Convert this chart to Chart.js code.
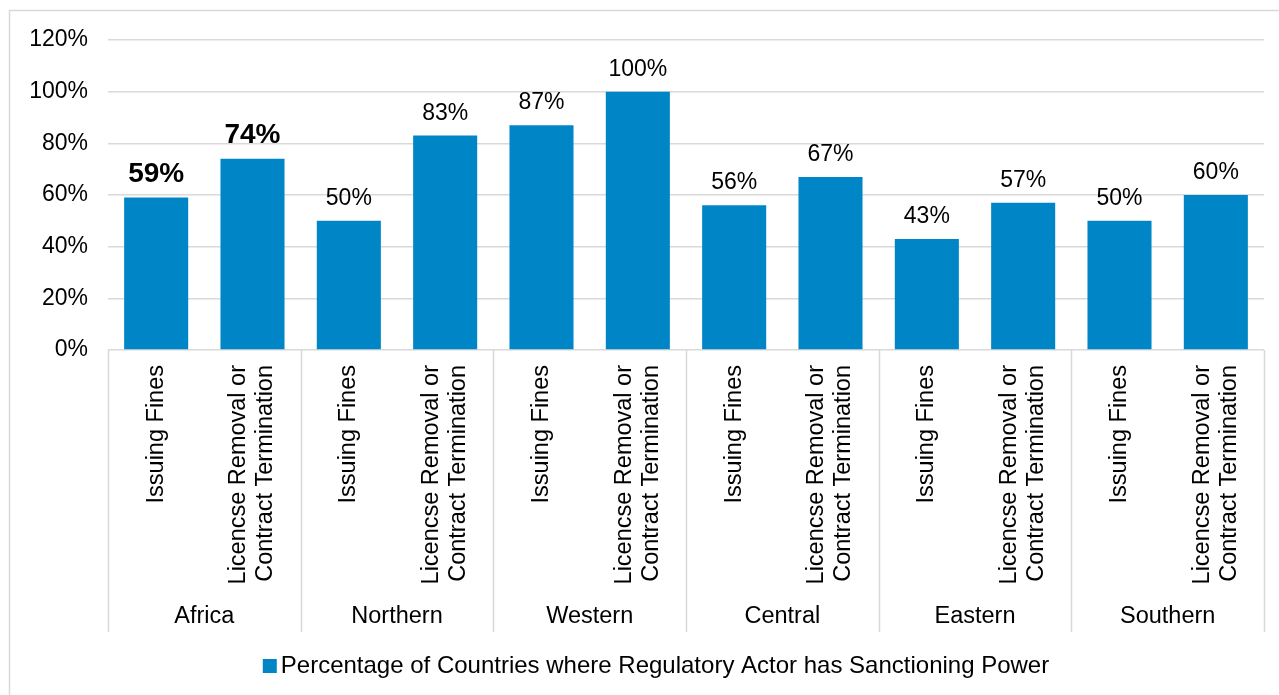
<!DOCTYPE html>
<html>
<head>
<meta charset="utf-8">
<title>Sanctioning power by region</title>
<script src="https://cdn.jsdelivr.net/npm/chart.js@4.4.1/dist/chart.umd.min.js"></script>
<style>
    html, body { margin: 0; padding: 0; background: #fff; }
    #wrap { position: relative; width: 1279px; height: 695px; }
</style>
</head>
<body>
<div id="wrap"><canvas id="sanctions" width="1279" height="695"></canvas></div>
<script>
    "use strict";

    // Regions and the two kinds of sanction shown for each
    var regions = ['Africa', 'Northern', 'Western', 'Central', 'Eastern', 'Southern'];
    var sanctionTypes = [['Issuing Fines'], ['Licencse Removal or', 'Contract Termination']];

    // Percentage of countries, one value per region
    var issuingFines = [59, 50, 87, 56, 43, 50];
    var licenceRemoval = [74, 83, 100, 67, 57, 60];

    var yTicks = [0, 20, 40, 60, 80, 100, 120];
    var seriesName = 'Percentage of Countries where Regulatory Actor has Sanctioning Power';

    var FONT = '"Liberation Sans", Arial, Helvetica, sans-serif';
    var BAR_BLUE = '#0086C7';
    var LINE_GREY = '#d9d9d9';

    // two bars per region: fines first, then licence removal
    var labels = [];
    var values = [];
    regions.forEach(function (r, i) {
        labels.push(sanctionTypes[0]);
        values.push(issuingFines[i]);
        labels.push(sanctionTypes[1]);
        values.push(licenceRemoval[i]);
    });

    // Outer frame, drawn before anything else
    var framePlugin = {
        id: 'frame',
        beforeDraw: function (chart) {
            var ctx = chart.ctx;
            ctx.save();
            ctx.strokeStyle = LINE_GREY;
            ctx.lineWidth = 1.5;
            ctx.strokeRect(9.5, 10.5, 1320, 720);
            ctx.restore();
        }
    };

    // Value labels above each bar, Africa totals in bold
    var valueLabels = {
        id: 'valueLabels',
        afterDatasetsDraw: function (chart) {
            var ctx = chart.ctx;
            var meta = chart.getDatasetMeta(0);
            ctx.save();
            ctx.fillStyle = '#000';
            ctx.textAlign = 'center';
            ctx.textBaseline = 'alphabetic';
            meta.data.forEach(function (bar, i) {
                var bold = Math.floor(i / 2) === 0;
                ctx.font = bold ? 'bold 28px ' + FONT : '23px ' + FONT;
                ctx.fillText(values[i] + '%', bar.x, bar.y - 16);
            });
            ctx.restore();
        }
    };

    // Rotated sanction labels, region names and the separators between regions
    var groupAxis = {
        id: 'groupAxis',
        afterDraw: function (chart) {
            var ctx = chart.ctx;
            var x = chart.scales.x;
            var area = chart.chartArea;
            var top = area.bottom;
            var sepBottom = 632;

            ctx.save();
            ctx.strokeStyle = LINE_GREY;
            ctx.lineWidth = 1.5;
            var edges = [area.left];
            for (var g = 1; g < regions.length; g++) {
                edges.push((x.getPixelForValue(2 * g - 1) + x.getPixelForValue(2 * g)) / 2);
            }
            edges.push(area.right);
            edges.forEach(function (ex) {
                ctx.beginPath();
                ctx.moveTo(Math.round(ex) + 0.5, top);
                ctx.lineTo(Math.round(ex) + 0.5, sepBottom);
                ctx.stroke();
            });

            ctx.fillStyle = '#000';
            ctx.font = '23.5px ' + FONT;

            // sanction type labels, read bottom to top
            labels.forEach(function (lines, i) {
                var cx = x.getPixelForValue(i);
                ctx.save();
                ctx.translate(cx, top + 15);
                ctx.rotate(-Math.PI / 2);
                ctx.textAlign = 'right';
                ctx.textBaseline = 'middle';
                var lh = 27;
                var off = -(lines.length - 1) * lh / 2;
                lines.forEach(function (line, k) {
                    ctx.fillText(line, 0, off + k * lh);
                });
                ctx.restore();
            });

            // region names
            ctx.textAlign = 'center';
            ctx.textBaseline = 'middle';
            regions.forEach(function (r, g) {
                var cx = (x.getPixelForValue(2 * g) + x.getPixelForValue(2 * g + 1)) / 2;
                ctx.fillText(r, cx, 617);
            });

            // legend
            ctx.font = '24px ' + FONT;
            var tw = ctx.measureText(seriesName).width;
            var box = 14, gap = 4;
            var start = 656 - (box + gap + tw) / 2;
            var ly = 666;
            ctx.fillStyle = BAR_BLUE;
            ctx.fillRect(start, ly - box / 2, box, box);
            ctx.fillStyle = '#000';
            ctx.textAlign = 'left';
            ctx.fillText(seriesName, start + box + gap, ly);
            ctx.restore();
        }
    };

    var ctx = document.getElementById('sanctions').getContext('2d');
    var chart = new Chart(ctx, {
        type: 'bar',
        data: {
            labels: labels,
            datasets: [{
                label: seriesName,
                data: values,
                backgroundColor: BAR_BLUE,
                barPercentage: 0.665,
                categoryPercentage: 1
            }]
        },
        options: {
            responsive: false,
            animation: false,
            devicePixelRatio: 1,
            layout: { padding: { top: 40, right: 15, bottom: 0, left: 0 } },
            plugins: {
                legend: { display: false },
                tooltip: { enabled: false }
            },
            scales: {
                x: {
                    grid: { display: false },
                    border: { display: false },
                    ticks: { display: false },
                    afterFit: function (scale) { scale.height = 345; }
                },
                y: {
                    min: yTicks[0],
                    max: yTicks[yTicks.length - 1],
                    afterBuildTicks: function (scale) {
                        scale.ticks = yTicks.map(function (v) { return { value: v }; });
                    },
                    grid: { color: LINE_GREY, lineWidth: 1.5, drawTicks: false },
                    border: { display: false },
                    ticks: {
                        padding: 20,
                        color: '#000',
                        font: { family: FONT, size: 23 },
                        callback: function (v) { return v + '%'; }
                    },
                    afterFit: function (scale) { scale.width = 108; }
                }
            }
        },
        plugins: [framePlugin, valueLabels, groupAxis]
    });
</script>
</body>
</html>
